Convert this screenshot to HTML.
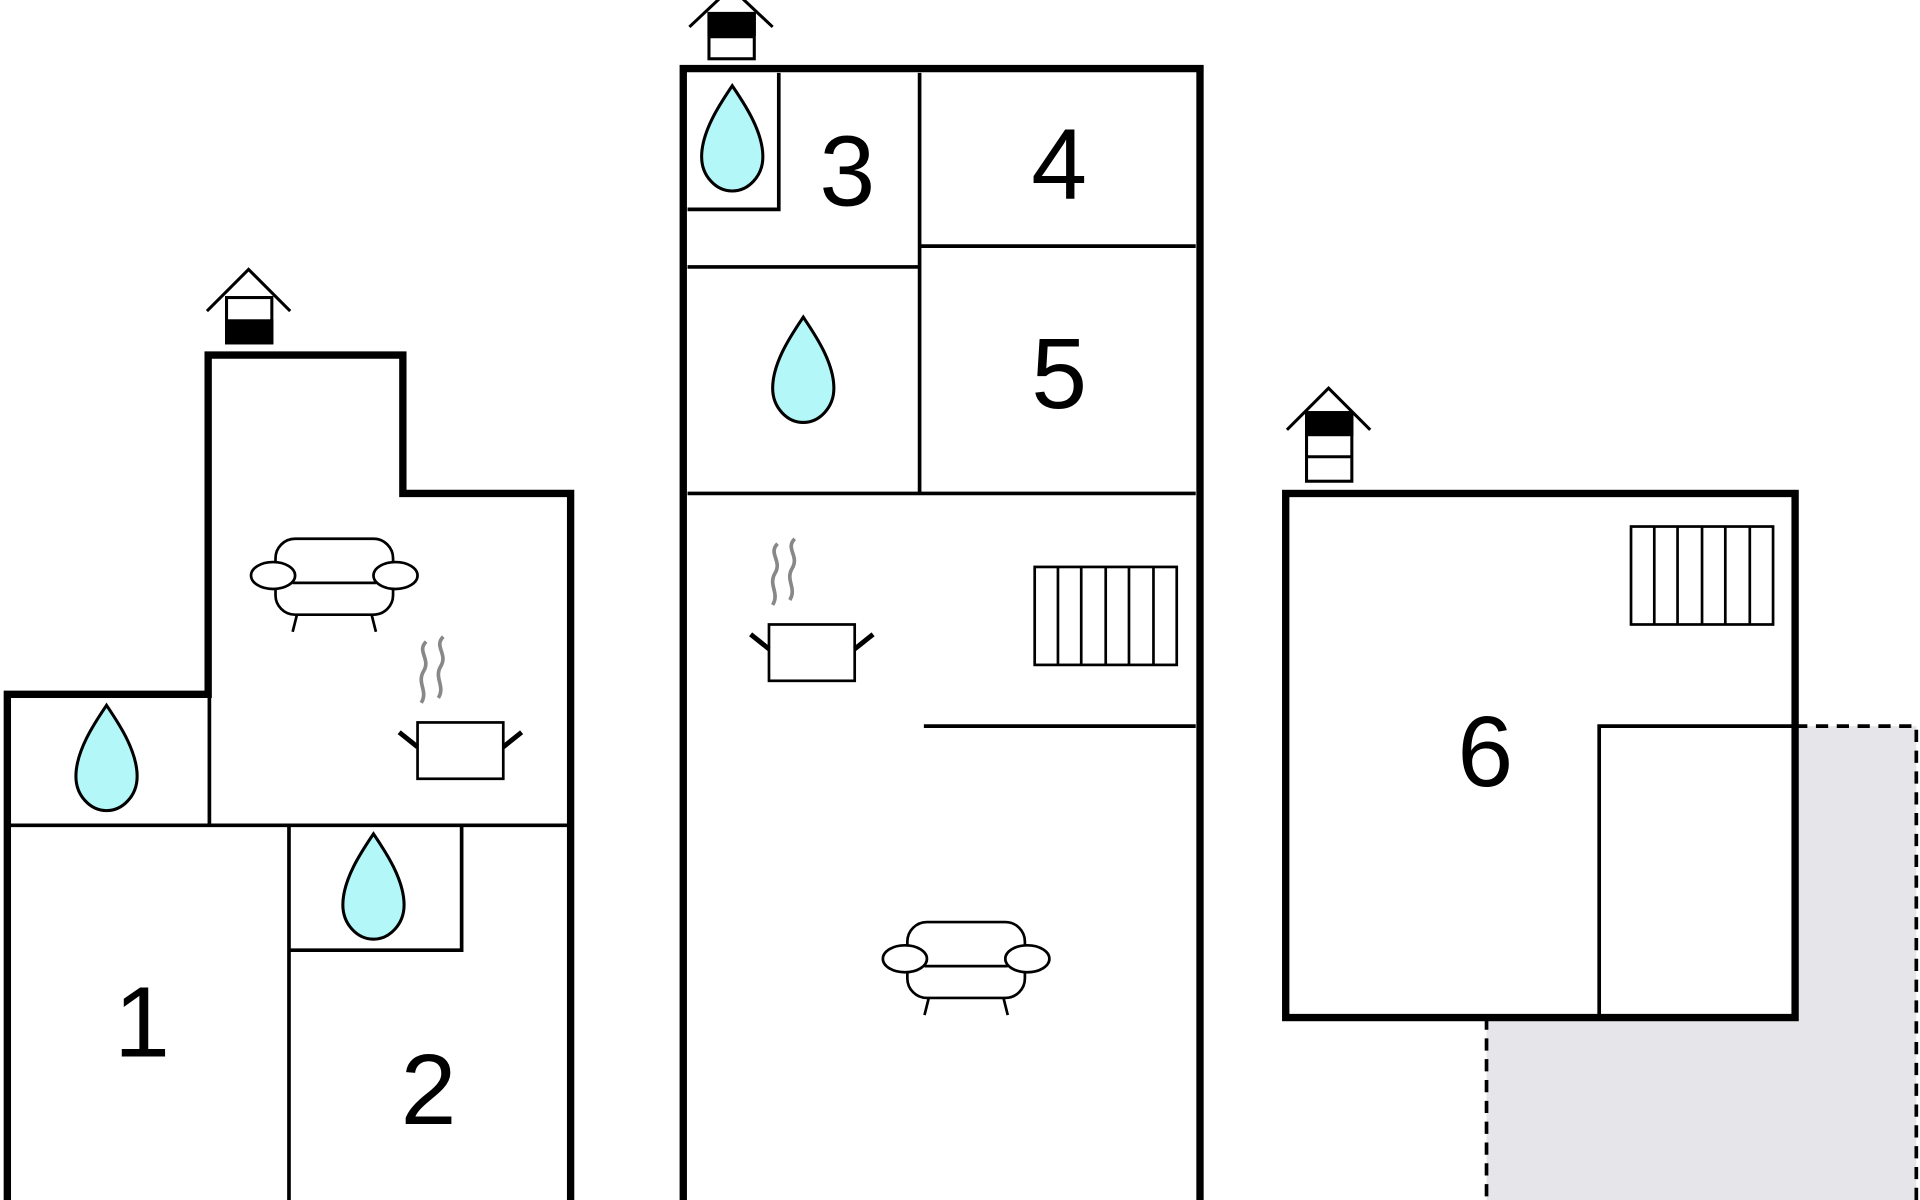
<!DOCTYPE html><html><head><style>html,body{margin:0;padding:0;background:#fff}svg{display:block}</style></head><body>
<svg width="1920" height="1200" viewBox="0 0 1568 980" xmlns="http://www.w3.org/2000/svg">
<defs>
<g id="drop"><path d="M0,-44 C-8,-32 -25,-8 -25,14 C-25,30 -13,42 0,42 C13,42 25,30 25,14 C25,-8 8,-32 0,-44Z" fill="#b3f7f9" stroke="#000" stroke-width="2.5"/></g>
<g id="sofa" fill="#fff" stroke="#000" stroke-width="2.2">
<line x1="-30" y1="30" x2="-34" y2="46"/><line x1="30" y1="30" x2="34" y2="46"/>
<rect x="-48" y="-30" width="96" height="62" rx="16"/>
<line x1="-34" y1="6" x2="34" y2="6"/>
<ellipse cx="-50" cy="0" rx="18" ry="11"/><ellipse cx="50" cy="0" rx="18" ry="11"/></g>
<g id="pot"><path d="M-28,-88 c-8,8 4,14 -2,24 c-6,10 4,16 -2,26 M-14,-92 c-8,8 4,14 -2,24 c-6,10 4,16 -2,26" fill="none" stroke="#888" stroke-width="3"/>
<rect x="-35" y="-22" width="70" height="46" fill="#fff" stroke="#000" stroke-width="2.2"/>
<line x1="-35" y1="-2" x2="-50" y2="-14" stroke="#000" stroke-width="4"/><line x1="35" y1="-2" x2="50" y2="-14" stroke="#000" stroke-width="4"/></g>
<g id="rad" fill="none" stroke="#000" stroke-width="2.2"><rect x="0" y="0" width="116" height="80"/>
<line x1="19" y1="0" x2="19" y2="80"/><line x1="38" y1="0" x2="38" y2="80"/><line x1="58" y1="0" x2="58" y2="80"/><line x1="77" y1="0" x2="77" y2="80"/><line x1="97" y1="0" x2="97" y2="80"/></g>
</defs>
<polygon points="1466,593 1565,593 1565,980 1214,980 1214,831 1466,831" fill="#e6e6ea"/>
<path d="M1466,593 H1565 V980 M1214,831 V980" fill="none" stroke="#000" stroke-width="3" stroke-dasharray="10,7"/>
<g fill="none" stroke="#000" stroke-linecap="square">
<path d="M6,980 V567 H170 V290 H329 V403 H466 V980" stroke-width="6"/>
<path d="M6,674 H466 M171,567 V674 M236,674 V980 M236,776 H377 V674" stroke-width="3"/>
<rect x="558" y="56" width="422" height="960" stroke-width="6"/>
<path d="M563,171 H636 V61 M751,61 V403 M563,218 H751 M751,201 H975 M563,403 H975 M756,593 H975" stroke-width="3"/>
<rect x="1050" y="403" width="416" height="428" stroke-width="6"/>
<path d="M1306,831 V593 H1466" stroke-width="3"/>
</g>
<g font-family="Liberation Sans, sans-serif" font-size="82" text-anchor="middle">
<text x="116" y="863">1</text><text x="350" y="918">2</text><text x="692" y="168">3</text><text x="865" y="162">4</text><text x="865" y="333">5</text><text x="1213" y="642">6</text></g>
<use href="#drop" x="87" y="620"/><use href="#drop" x="305" y="725"/><use href="#drop" x="598" y="114"/><use href="#drop" x="656" y="303"/>
<use href="#sofa" x="273" y="470"/><use href="#sofa" x="789" y="783"/>
<use href="#pot" x="376" y="612"/><use href="#pot" x="663" y="532"/>
<use href="#rad" x="845" y="463"/><use href="#rad" x="1332" y="430"/>
<g fill="none" stroke="#000" stroke-width="2.5">
<path d="M169,254 L203,220 L237,254"/><rect x="185" y="243" width="37" height="37" fill="#fff"/><rect x="185" y="262" width="37" height="18" fill="#000"/>
<path d="M563,22 L597,-10 L631,22"/><rect x="579" y="11" width="37" height="37" fill="#fff"/><rect x="579" y="11" width="37" height="17" fill="#000"/><line x1="579" y1="30" x2="616" y2="30"/>
<path d="M1051,351 L1085,317 L1119,351"/><rect x="1067" y="337" width="37" height="56" fill="#fff"/><rect x="1067" y="337" width="37" height="18" fill="#000"/><line x1="1067" y1="373" x2="1104" y2="373"/>
</g>
</svg></body></html>
